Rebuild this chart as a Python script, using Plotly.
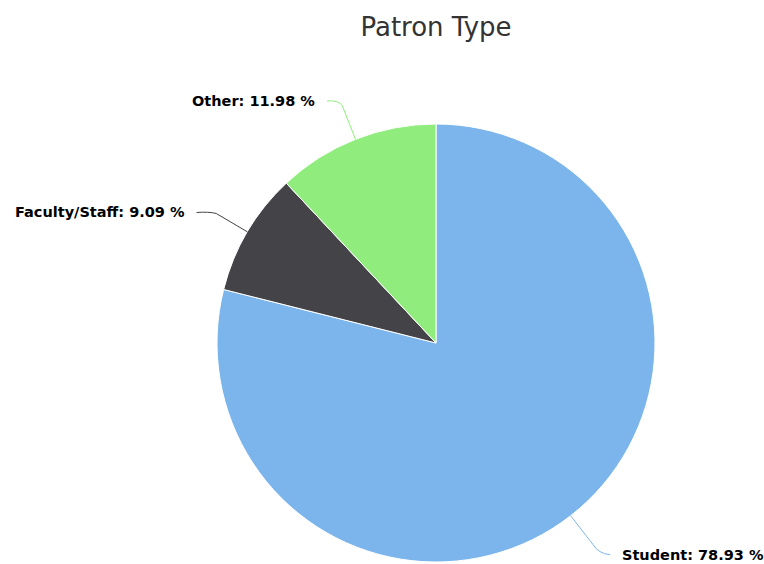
import math
import plotly.graph_objects as go

# ---- data ----
categories = ["Student", "Faculty/Staff", "Other"]
percentages = [78.93, 9.09, 11.98]
colors = ["#7cb5ec", "#434348", "#90ed7d"]
title_text = "Patron Type"

# ---- layout constants (pixels) ----
W, H = 764, 564
CX, CY, R = 436, 343, 219
LABEL_DIST = 45      # distance of connector bend beyond pie edge
LABEL_DY = 3.5
CONN_END = 12        # connector end beyond bend (horizontal)
TEXT_GAP = 22        # text start beyond bend (horizontal)

fig = go.Figure()
fig.add_trace(go.Pie(
    labels=categories,
    values=percentages,
    sort=False,
    direction="clockwise",
    rotation=0,
    marker=dict(colors=colors, line=dict(color="#ffffff", width=1)),
    textinfo="none",
    hoverinfo="label+percent",
    showlegend=False,
    domain=dict(x=[(CX - R) / W, (CX + R) / W],
                y=[1 - (CY + R) / H, 1 - (CY - R) / H]),
))

# invisible pixel-space axes for labels and connectors
fig.add_trace(go.Scatter(x=[None], y=[None], showlegend=False, hoverinfo="skip"))

total = sum(percentages)
cum = 0.0
shapes = []
annotations = []
for cat, val, col in zip(categories, percentages, colors):
    mid = (cum + val / 2) / total * 2 * math.pi
    cum += val
    sx, sy = math.sin(mid), -math.cos(mid)
    ex, ey = CX + R * sx, CY + R * sy
    lx, ly = CX + (R + LABEL_DIST) * sx, CY + (R + LABEL_DIST) * sy
    side = 1 if sx >= 0 else -1
    px, py = lx + (ex - lx) * 0.2, ly + (ey - ly) * 0.2
    path = (f"M {lx + side * CONN_END:.1f},{ly + LABEL_DY:.1f} "
            f"Q {lx:.1f},{ly + LABEL_DY - 1:.1f} {px:.1f},{py:.1f} "
            f"L {ex:.1f},{ey:.1f}")
    shapes.append(dict(type="path", path=path, xref="x", yref="y",
                       line=dict(color=col, width=1)))
    annotations.append(dict(
        x=lx + side * TEXT_GAP, y=ly + LABEL_DY, xref="x", yref="y",
        text=f"<b>{cat}: {val:.2f} %</b>",
        showarrow=False,
        xanchor="left" if side > 0 else "right",
        yanchor="middle",
        font=dict(family="DejaVu Sans", size=14.5, color="#000000"),
    ))

fig.update_layout(
    width=W, height=H,
    margin=dict(l=0, r=0, t=0, b=0),
    paper_bgcolor="#ffffff",
    plot_bgcolor="rgba(0,0,0,0)",
    title=dict(text=title_text, x=CX / W, xanchor="center", y=1 - 27 / H, yanchor="middle",
               font=dict(family="DejaVu Sans", size=26, color="#333333")),
    xaxis=dict(range=[0, W], visible=False, fixedrange=True),
    yaxis=dict(range=[H, 0], visible=False, fixedrange=True),
    shapes=shapes,
    annotations=annotations,
)

fig.write_html("out.html", config={"displayModeBar": False},
               post_script="document.body.style.margin='0';")
